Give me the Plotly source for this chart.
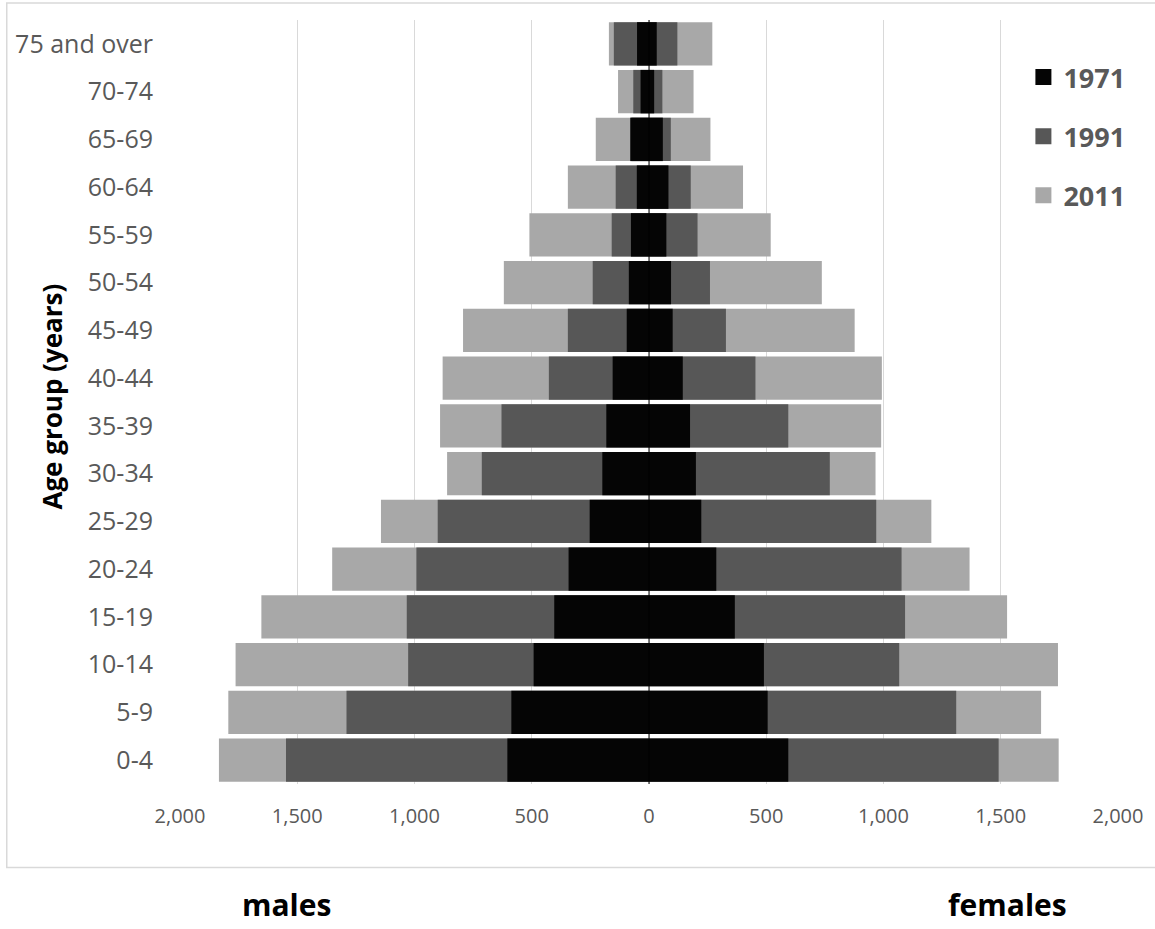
import plotly.graph_objects as go

# Age groups, youngest first (plotted bottom to top)
age_groups = ["0-4", "5-9", "10-14", "15-19", "20-24", "25-29", "30-34", "35-39",
              "40-44", "45-49", "50-54", "55-59", "60-64", "65-69", "70-74", "75 and over"]

# Population by age group (thousands)
males_1971 = [604, 587, 492, 404, 343, 253, 199, 182, 155, 95, 86, 77, 52, 80, 36, 51]
males_1991 = [1548, 1290, 1027, 1033, 992, 901, 713, 629, 427, 346, 240, 159, 142, 75, 67, 150]
males_2011 = [1834, 1794, 1763, 1653, 1351, 1143, 861, 891, 880, 793, 619, 510, 346, 227, 132, 171]

females_1971 = [594, 506, 490, 366, 287, 223, 200, 175, 144, 101, 94, 74, 83, 59, 22, 33]
females_1991 = [1491, 1310, 1067, 1092, 1077, 969, 771, 594, 454, 328, 260, 207, 178, 93, 57, 121]
females_2011 = [1747, 1672, 1744, 1527, 1367, 1204, 966, 990, 993, 877, 737, 519, 401, 262, 190, 270]

tick_values = [-2000, -1500, -1000, -500, 0, 500, 1000, 1500, 2000]
tick_labels = ["2,000", "1,500", "1,000", "500", "0", "500", "1,000", "1,500", "2,000"]

years = ["2011", "1991", "1971"]          # back to front
colors = {"1971": "#050505", "1991": "#575757", "2011": "#a8a8a8"}
male_data = {"1971": males_1971, "1991": males_1991, "2011": males_2011}
female_data = {"1971": females_1971, "1991": females_1991, "2011": females_2011}

W, H = 1155, 929
ML, MR, MT, MB = 180, 33, 20, 145
PW, PH = W - ML - MR, H - MT - MB


def px_x(px):
    return (px - ML) / PW


def px_y(py):
    return (H - MB - py) / PH


FONT = "Open Sans"
fig = go.Figure()

for yr in years:
    # males drawn to the left (negative), females to the right
    fig.add_trace(go.Bar(
        x=[-v for v in male_data[yr]] + female_data[yr],
        y=age_groups + age_groups,
        orientation="h",
        marker=dict(color=colors[yr], line=dict(width=0)),
        opacity=1,
        showlegend=False,
        name=yr,
    ))

# legend entries with larger square swatches
for rank, yr in enumerate(["1971", "1991", "2011"]):
    fig.add_trace(go.Scatter(
        x=[None], y=[None], mode="markers", name=yr,
        marker=dict(symbol="square", size=16, color=colors[yr]),
        legendgroup=yr, legendrank=rank + 1, showlegend=True,
    ))

fig.update_layout(
    width=W, height=H,
    margin=dict(l=ML, r=MR, t=MT, b=MB),
    paper_bgcolor="white", plot_bgcolor="white",
    barmode="overlay", bargap=0.09,
    font=dict(family=FONT, color="#595959"),
    legend=dict(
        x=px_x(1027), y=px_y(53), xanchor="left", yanchor="top",
        font=dict(family=FONT, size=27, color="#595959", weight="bold"),
        bgcolor="rgba(0,0,0,0)", tracegroupgap=21, itemsizing="trace",
    ),
    xaxis=dict(
        range=[-2000, 2000], tickvals=tick_values, ticktext=tick_labels,
        showgrid=True, gridcolor="#d9d9d9", gridwidth=1, zeroline=False,
        showline=False, ticks="", ticklabelstandoff=18,
        tickfont=dict(family=FONT, size=20, color="#595959"),
        fixedrange=True,
    ),
    yaxis=dict(
        type="category", categoryorder="array", categoryarray=age_groups,
        showgrid=False, zeroline=False, showline=False, ticks="",
        ticklabelstandoff=26,
        tickfont=dict(family=FONT, size=25, color="#595959"),
    ),
    shapes=[
        # category axis line through zero
        dict(type="line", xref="x", yref="paper", x0=0, x1=0, y0=0, y1=1,
             line=dict(color="#000000", width=1), layer="above"),
        # chart area border
        dict(type="rect", xref="paper", yref="paper",
             x0=px_x(6), x1=px_x(1160), y0=px_y(867.5), y1=px_y(3),
             line=dict(color="#d9d9d9", width=1.5), fillcolor="rgba(0,0,0,0)",
             layer="below"),
    ],
    annotations=[
        dict(text="Age group (years)", xref="paper", yref="paper",
             x=px_x(51), y=px_y(397), textangle=-90, showarrow=False,
             xanchor="center", yanchor="middle",
             font=dict(family=FONT, size=26, color="#000000", weight="bold")),
        dict(text="males", xref="paper", yref="paper",
             x=px_x(287), y=px_y(927), showarrow=False,
             xanchor="center", yanchor="bottom",
             font=dict(family=FONT, size=30, color="#000000", weight="bold")),
        dict(text="females", xref="paper", yref="paper",
             x=px_x(1011), y=px_y(927), showarrow=False,
             xanchor="center", yanchor="bottom",
             font=dict(family=FONT, size=30, color="#000000", weight="bold")),
    ],
)

fig.write_html("out.html")
